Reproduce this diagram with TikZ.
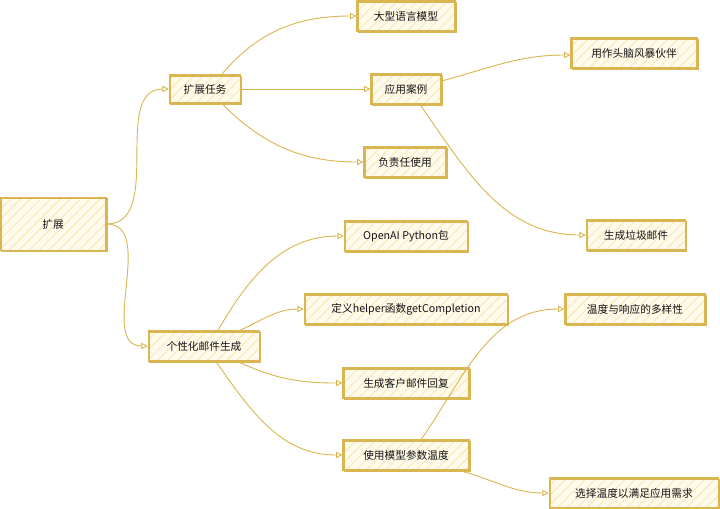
\documentclass[tikz,border=0pt]{standalone}
\usepackage{fontspec}
\newfontfamily\cjk{Noto Sans CJK SC}
\usetikzlibrary{arrows.meta,patterns.meta}
\definecolor{gold}{RGB}{217,182,82}
\definecolor{boxfill}{RGB}{255,251,236}
\definecolor{hatch}{RGB}{250,232,180}
\definecolor{ink}{RGB}{20,20,20}
\tikzset{box/.style={draw=gold,line width=0.9pt,preaction={fill=boxfill},
    pattern={Lines[angle=45,distance=5pt,line width=0.7pt]},pattern color=hatch,
    postaction={draw=gold,line width=0.4pt,transform canvas={shift={(0.7pt,-0.6pt)}}},
    minimum height=0.75cm,inner sep=2pt,text=ink,font=\cjk\fontsize{7.6}{9}\selectfont}}
\begin{document}
\begin{tikzpicture}[x=0.025cm,y=-0.025cm]
\tikzset{link/.style={gold,line width=0.65pt,-{Triangle[open,length=4.5pt,width=4.5pt]}}}
\useasboundingbox (0,0) rectangle (720,508);
\node[box,minimum width=2.65cm,minimum height=1.33cm] (root) at (53,224) {扩展};
\node[box,minimum width=1.78cm,minimum height=0.7cm] (task) at (205,89) {扩展任务};
\node[box,minimum width=2.45cm] (llm) at (406,16) {大型语言模型};
\node[box,minimum width=1.75cm] (case) at (406,89) {应用案例};
\node[box,minimum width=3.15cm] (brain) at (634,53) {用作头脑风暴伙伴};
\node[box,minimum width=2.05cm] (resp) at (405,162) {负责任使用};
\node[box,minimum width=2.48cm] (spam) at (636,235) {生成垃圾邮件};
\node[box,minimum width=2.78cm] (mail) at (204,346) {个性化邮件生成};
\node[box,minimum width=3.08cm] (openai) at (406,236) {OpenAI Python包};
\node[box,minimum width=5.08cm] (helper) at (406,309) {定义helper函数getCompletion};
\node[box,minimum width=3.15cm] (reply) at (406,383) {生成客户邮件回复};
\node[box,minimum width=3.15cm] (temp) at (406,455) {使用模型参数温度};
\node[box,minimum width=3.5cm] (vary) at (635,309) {温度与响应的多样性};
\node[box,minimum width=4.23cm] (choose) at (634,493) {选择温度以满足应用需求};
\draw[link] (root.east) to[out=0,in=180] (task.west);
\draw[link] (root.east) to[out=0,in=180] (mail.west);
\draw[link] ([xshift=0.42cm]task.north) to[out=50,in=180] (llm.west);
\draw[link] (task.east) -- (case.west);
\draw[link] ([xshift=0.42cm]task.south) to[out=-45,in=180] (resp.west);
\draw[link] ([yshift=0.2cm]case.east) to[out=15,in=180] ([yshift=-0.05cm]brain.west);
\draw[link] ([xshift=0.35cm]case.south) to[out=-55,in=180] (spam.west);
\draw[link] ([xshift=0.35cm]mail.north) to[out=60,in=180] (openai.west);
\draw[link] ([xshift=0.9cm]mail.north) to[out=25,in=180] (helper.west);
\draw[link] ([xshift=0.85cm]mail.south) to[out=-25,in=180] (reply.west);
\draw[link] ([xshift=0.3cm]mail.south) to[out=-55,in=180] (temp.west);
\draw[link] ([xshift=0.38cm]temp.north) to[out=55,in=180] (vary.west);
\draw[link] ([xshift=1.35cm]temp.south) to[out=-15,in=180] (choose.west);
\end{tikzpicture}
\end{document}
